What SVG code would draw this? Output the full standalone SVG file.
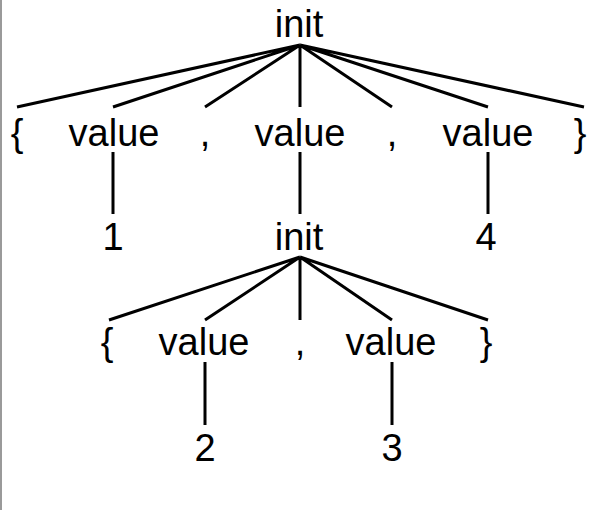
<svg xmlns="http://www.w3.org/2000/svg" width="610" height="510" viewBox="0 0 610 510">
  <style>
    .t { font-family: "Liberation Sans", Arial, sans-serif; font-size: 38px; fill: #000; text-anchor: middle; }
    .e { stroke: #000; stroke-width: 3; fill: none; stroke-linecap: butt; }
  </style>
  <rect x="0" y="0" width="610" height="510" fill="#fff"/>
  <rect x="0" y="0" width="2" height="510" fill="#9a9a9a"/>

  <g id="connectors" class="e">
    <!-- root init to its children -->
    <path d="M300 45 L17 107 M300 45 L113 107 M300 45 L205 107 M300 45 L300 107 M300 45 L392 107 M300 45 L488 107 M300 45 L584 107"/>
    <!-- value leaves -->
    <path d="M113 152 L113 214 M300 152 L300 214 M488 152 L488 214"/>
    <!-- inner init to its children -->
    <path d="M300 257 L109 320 M300 257 L205 320 M300 257 L300 320 M300 257 L392 320 M300 257 L488 320"/>
    <path d="M205 362 L205 425 M392 362 L392 425"/>
  </g>

  <g id="init-root"><text class="t" x="299" y="37">init</text></g>
  <g id="lbrace-1"><text class="t" x="17" y="146">{</text></g>
  <g id="value-1"><text class="t" x="114" y="146">value</text></g>
  <g id="comma-1"><text class="t" x="205" y="146">,</text></g>
  <g id="value-2"><text class="t" x="300" y="146">value</text></g>
  <g id="comma-2"><text class="t" x="392" y="146">,</text></g>
  <g id="value-3"><text class="t" x="488" y="146">value</text></g>
  <g id="rbrace-1"><text class="t" x="580" y="146">}</text></g>

  <g id="num-1"><text class="t" x="113" y="250">1</text></g>
  <g id="init-inner"><text class="t" x="299" y="250">init</text></g>
  <g id="num-4"><text class="t" x="486" y="250">4</text></g>

  <g id="lbrace-2"><text class="t" x="107" y="355">{</text></g>
  <g id="value-4"><text class="t" x="204" y="355">value</text></g>
  <g id="comma-3"><text class="t" x="300" y="355">,</text></g>
  <g id="value-5"><text class="t" x="391" y="355">value</text></g>
  <g id="rbrace-2"><text class="t" x="486" y="355">}</text></g>

  <g id="num-2"><text class="t" x="205" y="461">2</text></g>
  <g id="num-3"><text class="t" x="392" y="461">3</text></g>
</svg>
